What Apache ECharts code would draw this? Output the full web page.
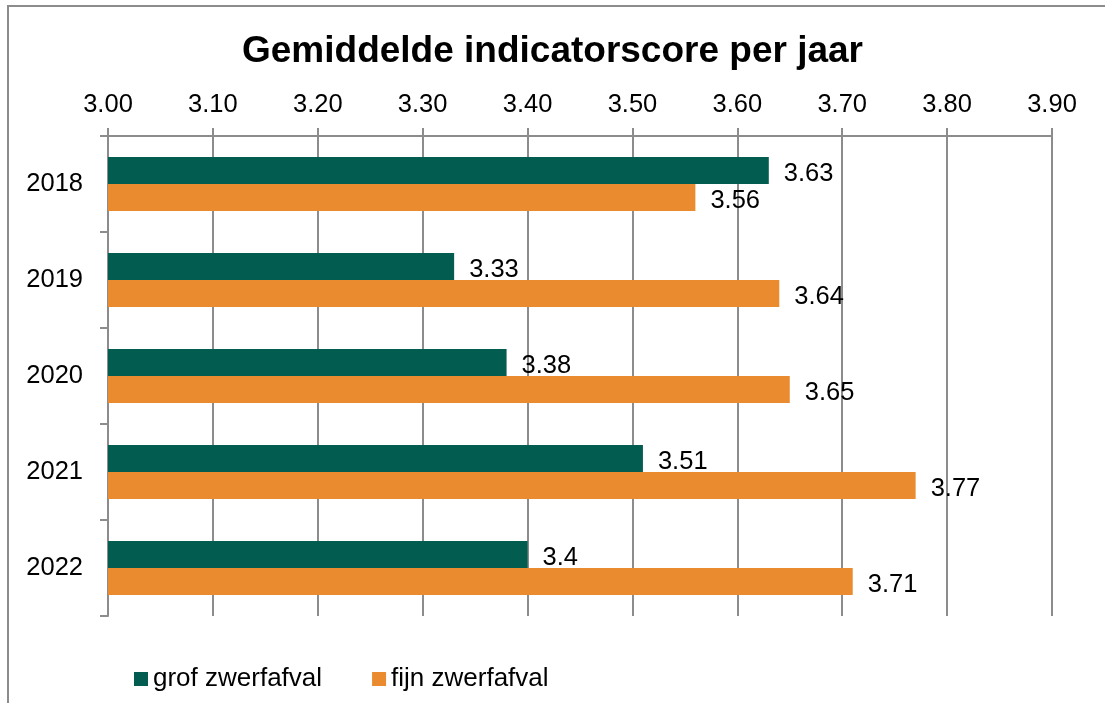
<!DOCTYPE html>
<html>
<head>
<meta charset="utf-8">
<script src="https://cdn.jsdelivr.net/npm/echarts@6/dist/echarts.min.js"></script>
<style>
  html, body { margin: 0; padding: 0; background: #fff; }
  #wrap { position: relative; width: 1105px; height: 703px; overflow: hidden; background: #fff; }
  #frame { position: absolute; left: 7px; top: 5px; width: 1110px; height: 710px; border: 2px solid #8c8c8c; box-sizing: border-box; }
  #chart { position: absolute; left: 0; top: 0; width: 1105px; height: 703px; }
</style>
</head>
<body>
<div id="wrap">
  <div id="frame"></div>
  <div id="chart"></div>
</div>
<script>
const titleText = 'Gemiddelde indicatorscore per jaar';
const years = ['2018', '2019', '2020', '2021', '2022'];
const grofName = 'grof zwerfafval';
const fijnName = 'fijn zwerfafval';
const grofValues = [3.63, 3.33, 3.38, 3.51, 3.4];
const fijnValues = [3.56, 3.64, 3.65, 3.77, 3.71];
const axisMin = 3.0;
const axisMax = 3.9;
const axisStep = 0.1;

const fontFamily = '"Liberation Sans", Arial, sans-serif';
const labelStyle = {
  show: true,
  position: 'right',
  distance: 15,
  offset: [0, 3],
  color: '#000',
  fontSize: 25.5,
  fontFamily: fontFamily,
  formatter: p => String(p.value)
};

const chart = echarts.init(document.getElementById('chart'), null, { renderer: 'canvas' });
chart.setOption({
  backgroundColor: 'transparent',
  animation: false,
  title: {
    text: titleText,
    left: 'center',
    top: 28,
    textStyle: { fontFamily: fontFamily, fontWeight: 'bold', fontSize: 37, color: '#000' }
  },
  legend: {
    left: 129,
    top: 661,
    itemWidth: 14,
    itemHeight: 14,
    itemGap: 50,
    icon: 'rect',
    textStyle: { fontFamily: fontFamily, fontSize: 26, color: '#000', padding: [0, 0, 0, 0] },
    data: [grofName, fijnName]
  },
  grid: { left: 108, right: 53, top: 136, bottom: 87, containLabel: false },
  xAxis: {
    type: 'value',
    position: 'top',
    min: axisMin,
    max: axisMax,
    interval: axisStep,
    axisLine: { show: true, lineStyle: { color: '#8c8c8c', width: 2 } },
    axisTick: { show: true, inside: false, length: 8, lineStyle: { color: '#8c8c8c', width: 2 } },
    splitLine: { show: true, lineStyle: { color: '#8c8c8c', width: 2 } },
    axisLabel: {
      margin: 18,
      color: '#000',
      fontSize: 25.5,
      fontFamily: fontFamily,
      formatter: v => v.toFixed(2)
    }
  },
  yAxis: {
    type: 'category',
    inverse: true,
    data: years,
    axisLine: { show: true, lineStyle: { color: '#8c8c8c', width: 2 } },
    axisTick: { show: true, length: 8, alignWithLabel: false, lineStyle: { color: '#8c8c8c', width: 2 } },
    axisLabel: { margin: 25, color: '#000', fontSize: 25.5, fontFamily: fontFamily }
  },
  series: [
    {
      name: grofName,
      type: 'bar',
      data: grofValues,
      barGap: '0%',
      barCategoryGap: '43.75%',
      itemStyle: { color: '#035c50' },
      label: labelStyle,
      z: 3
    },
    {
      name: fijnName,
      type: 'bar',
      data: fijnValues,
      barGap: '0%',
      barCategoryGap: '43.75%',
      itemStyle: { color: '#eb8b2f' },
      label: labelStyle,
      z: 3
    }
  ]
});
</script>
</body>
</html>
